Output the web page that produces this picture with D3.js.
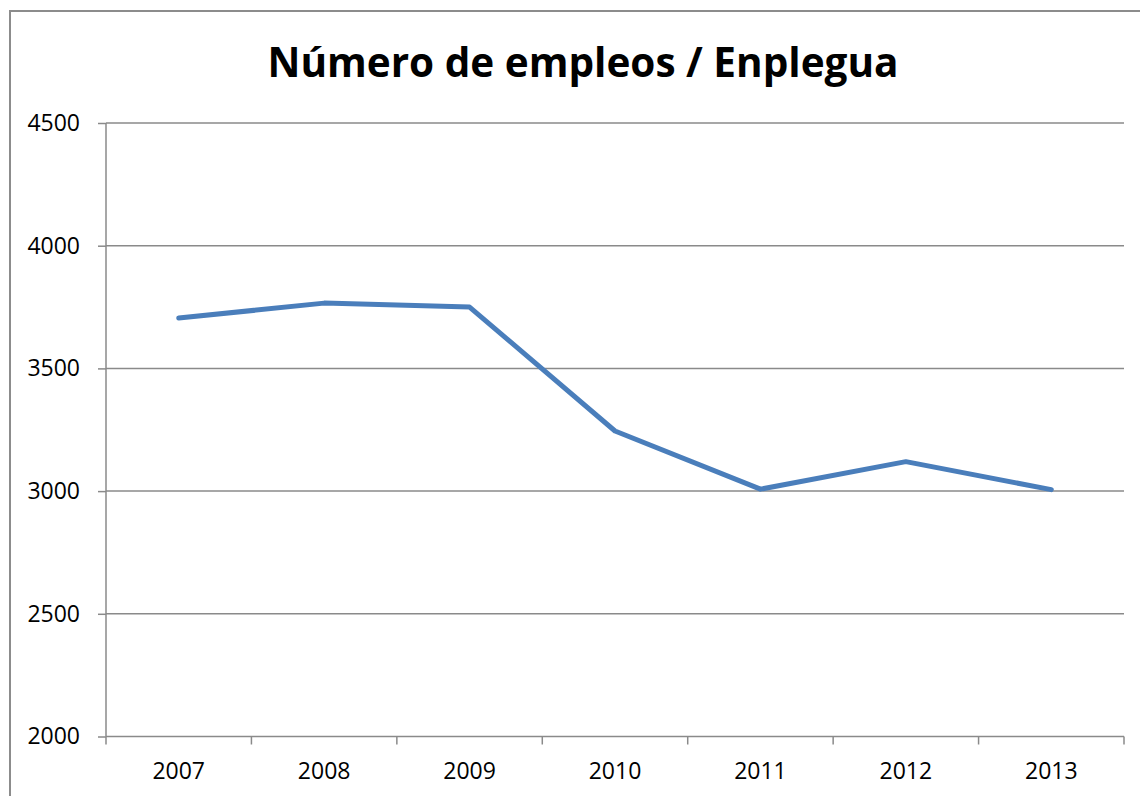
<!DOCTYPE html>
<html>
<head>
<meta charset="utf-8">
<script src="https://cdn.jsdelivr.net/npm/d3@7"></script>
<style>
    body { margin: 0; background: white; }
    svg { display: block; }
</style>
</head>
<body>
<script>
const years = ["2007", "2008", "2009", "2010", "2011", "2012", "2013"]
const empleos = [3705, 3766, 3750, 3245, 3008, 3120, 3006]
const yTicks = [2000, 2500, 3000, 3500, 4000, 4500]
const chartTitle = "Número de empleos / Enplegua"

const width = 1140
const height = 796
const margin = { top: 123, right: 16, bottom: 59.5, left: 106 }

const svg = d3.select("body")
    .append("svg")
    .attr("width", width)
    .attr("height", height)

// outer chart frame (runs off the right and bottom edge)
svg.append("rect")
    .attr("x", 10)
    .attr("y", 11)
    .attr("width", width)
    .attr("height", height)
    .attr("fill", "none")
    .attr("stroke", "#8c8c8c")
    .attr("stroke-width", 2)

svg.append("text")
    .attr("x", 583)
    .attr("y", 77)
    .attr("text-anchor", "middle")
    .style("font-family", "'Open Sans', sans-serif")
    .style("font-weight", "bold")
    .style("font-size", "40.5px")
    .text(chartTitle)

const xScale = d3.scaleBand()
    .domain(years)
    .range([margin.left, width - margin.right])

const yScale = d3.scaleLinear()
    .domain([2000, 4500])
    .range([height - margin.bottom, margin.top])

// horizontal gridlines
svg.append("g")
    .selectAll("line")
    .data(yTicks.slice(1))
    .enter()
    .append("line")
    .attr("x1", margin.left)
    .attr("x2", width - margin.right)
    .attr("y1", d => yScale(d))
    .attr("y2", d => yScale(d))
    .attr("stroke", "#8a8a8a")
    .attr("stroke-width", 1.5)

const yAxis = d3.axisLeft(yScale)
    .tickValues(yTicks)
    .tickFormat(d3.format("d"))
    .tickSize(8)
    .tickPadding(18)

svg.append("g")
    .attr("class", "y-axis")
    .attr("transform", `translate(${margin.left}, 0)`)
    .call(yAxis)

const xAxis = d3.axisBottom(xScale)
    .tickSize(0)
    .tickPadding(26)

svg.append("g")
    .attr("class", "x-axis")
    .attr("transform", `translate(0, ${height - margin.bottom})`)
    .call(xAxis)

// tick marks sit on the band edges
const edges = years.map(y => xScale(y)).concat([xScale(years[years.length - 1]) + xScale.bandwidth()])
svg.append("g")
    .selectAll("line")
    .data(edges)
    .enter()
    .append("line")
    .attr("x1", d => d)
    .attr("x2", d => d)
    .attr("y1", height - margin.bottom)
    .attr("y2", height - margin.bottom + 8)
    .attr("stroke", "#8a8a8a")
    .attr("stroke-width", 1.5)

svg.selectAll(".y-axis path, .x-axis path, .y-axis line")
    .attr("stroke", "#8a8a8a")
    .attr("stroke-width", 1.5)
svg.selectAll(".y-axis path, .x-axis path").attr("d", null)

svg.append("line")
    .attr("x1", margin.left).attr("x2", margin.left)
    .attr("y1", margin.top).attr("y2", height - margin.bottom)
    .attr("stroke", "#8a8a8a").attr("stroke-width", 1.5)
svg.append("line")
    .attr("x1", margin.left).attr("x2", width - margin.right)
    .attr("y1", height - margin.bottom).attr("y2", height - margin.bottom)
    .attr("stroke", "#8a8a8a").attr("stroke-width", 1.5)

svg.selectAll(".y-axis text, .x-axis text")
    .style("font-family", "'Open Sans', sans-serif")
    .style("font-size", "23px")
    .attr("fill", "#000")

const line = d3.line()
    .x((d, i) => xScale(years[i]) + xScale.bandwidth() / 2)
    .y(d => yScale(d))

svg.append("path")
    .datum(empleos)
    .attr("d", line)
    .attr("fill", "none")
    .attr("stroke", "#4a7ebb")
    .attr("stroke-width", 5)
    .attr("stroke-linecap", "round")
    .attr("stroke-linejoin", "round")
</script>
</body>
</html>
